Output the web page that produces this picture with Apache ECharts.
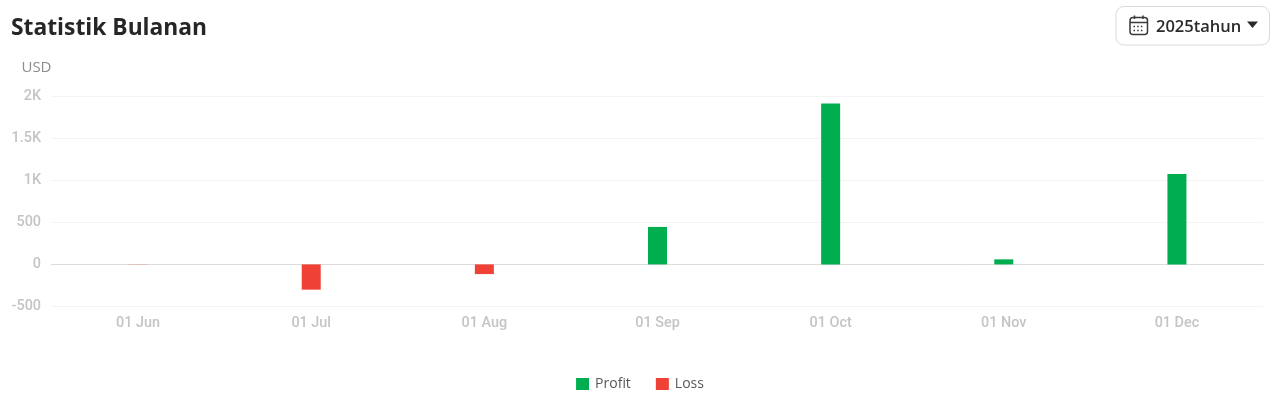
<!DOCTYPE html>
<html>
<head>
<meta charset="utf-8">
<style>html,body{margin:0;padding:0;background:#fff}#c{width:1280px;height:408px}</style>
<script src="https://cdn.jsdelivr.net/npm/echarts@6/dist/echarts.min.js"></script>
</head>
<body>
<div id="c"></div>
<script>
var categories = ['01 Jun','01 Jul','01 Aug','01 Sep','01 Oct','01 Nov','01 Dec'];
var profit = [0, 0, 0, 445, 1910, 60, 1075];
var loss = [-2, -300, -115, 0, 0, 0, 0];
var titleText = 'Statistik Bulanan';
var yearText = '2025tahun';
var unitText = 'USD';

var chart = echarts.init(document.getElementById('c'), null, {renderer:'canvas'});
function fmt(v){ return Math.abs(v) >= 1000 ? (v/1000) + 'K' : String(v); }
var uiFont = '"Open Sans","Noto Sans",sans-serif';
chart.setOption({
  animation:false,
  backgroundColor:'#fff',
  title:{text:titleText,left:6,top:12,textStyle:{fontFamily:uiFont,fontSize:22.8,fontWeight:700,color:'#262626'}},
  legend:{
    bottom:12,left:'center',itemWidth:13,itemHeight:12,itemGap:25,icon:'rect',
    textStyle:{fontFamily:uiFont,fontSize:14,color:'#595959',padding:[0,0,0,1]},
    data:['Profit','Loss']
  },
  grid:{left:51.5,right:16.5,top:96,bottom:101.5},
  xAxis:{
    type:'category',data:categories,
    axisTick:{show:false},
    axisLine:{show:true,onZero:true,lineStyle:{color:'#dcdcdc',width:1}},
    axisLabel:{fontFamily:'Roboto,sans-serif',fontSize:14.4,fontWeight:500,color:'#c4c4c4',margin:10,onZero:false},
    position:'bottom'
  },
  yAxis:{
    type:'value',min:-500,max:2000,interval:500,
    name:unitText,nameLocation:'end',nameGap:21,
    nameTextStyle:{fontFamily:uiFont,fontSize:15,color:'#8c8c8c',align:'right',padding:[0,0,0,0]},
    axisLine:{show:false},axisTick:{show:false},
    axisLabel:{fontFamily:'Roboto,sans-serif',fontSize:14.4,fontWeight:500,color:'#c4c4c4',margin:10.5,formatter:fmt},
    splitLine:{lineStyle:{color:'#f4f4f4',width:1}}
  },
  series:[
    {name:'Profit',type:'bar',stack:'pl',data:profit,barWidth:19,itemStyle:{color:'#00ad4f'}},
    {name:'Loss',type:'bar',stack:'pl',data:loss,barWidth:19,itemStyle:{color:'#f04136'}}
  ],
  graphic:[
    {type:'rect',shape:{x:1116,y:6.5,width:153.5,height:38.5,r:8},style:{fill:'#fff',stroke:'#d9d9d9',lineWidth:1}},
    {type:'rect',shape:{x:1130,y:17.5,width:17.5,height:17,r:3},style:{fill:'none',stroke:'#3a3a3a',lineWidth:1.5}},
    {type:'line',shape:{x1:1130,y1:22.5,x2:1147.5,y2:22.5},style:{stroke:'#3a3a3a',lineWidth:1.5}},
    {type:'line',shape:{x1:1134.5,y1:15.5,x2:1134.5,y2:19},style:{stroke:'#3a3a3a',lineWidth:1.5}},
    {type:'line',shape:{x1:1143,y1:15.5,x2:1143,y2:19},style:{stroke:'#3a3a3a',lineWidth:1.5}},
    {type:'line',shape:{x1:1133.5,y1:26.5,x2:1144.5,y2:26.5},style:{stroke:'#3a3a3a',lineWidth:1.5,lineDash:[1.5,2.2]}},
    {type:'line',shape:{x1:1133.5,y1:30.5,x2:1144.5,y2:30.5},style:{stroke:'#3a3a3a',lineWidth:1.5,lineDash:[1.5,2.2]}},
    {type:'text',x:1156,y:27,style:{text:yearText,font:'600 16.5px "Open Sans","Noto Sans",sans-serif',fill:'#2b2b2b',verticalAlign:'middle'}},
    {type:'polygon',shape:{points:[[1247,21.5],[1258,21.5],[1252.5,28]]},style:{fill:'#2b2b2b'}}
  ]
});
</script>
</body>
</html>
